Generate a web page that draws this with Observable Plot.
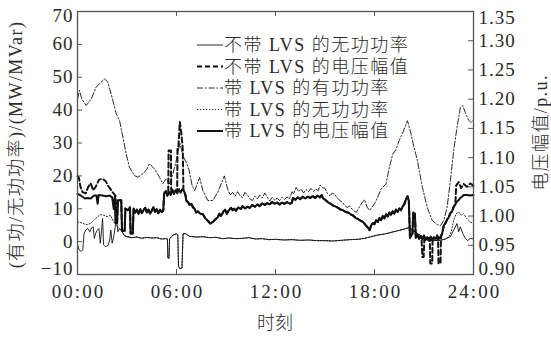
<!DOCTYPE html>
<html><head><meta charset="utf-8">
<script src="https://cdn.jsdelivr.net/npm/d3@7"></script>
<script src="https://cdn.jsdelivr.net/npm/@observablehq/plot@0.6"></script>
<style>
body{margin:0;background:#fff;}
#chart{width:551px;height:340px;}
</style></head><body><div id="chart"></div>
<script>
// ---- tick labels ----
const xTickHours = [0, 6, 12, 18, 24];
const xTickLabels = ["00:00", "06:00", "12:00", "18:00", "24:00"];
const leftTicks = [-10, 0, 10, 20, 30, 40, 50, 60, 70];
const rightTicks = [0.90, 0.95, 1.00, 1.05, 1.10, 1.15, 1.20, 1.25, 1.30, 1.35];
const rightTickLabels = ["0.90", "0.95", "1.00", "1.05", "1.10", "1.15", "1.20", "1.25", "1.30", "1.35"];
const seriesNames = ["不带LVS的无功功率", "不带LVS的电压幅值", "带LVS的有功功率", "带LVS的无功功率", "带LVS的电压幅值"];
const leftTitle = "(有功/无功功率)/(MW/MVar)";
const rightTitle = "电压幅值/p.u.";
const xTitle = "时刻";

// ---- series: [hour, value] ----
// 不带LVS的无功功率 (MVar)
const qNoLVS = [[0,-1],[0.1,-2.5],[0.22,-3],[0.32,-2.5],[0.4,2.5],[0.5,3.5],[0.62,4],[0.75,3],[0.85,4.2],[0.95,4.5],[1.02,1],[1.1,2.5],[1.2,3.5],[1.3,4],[1.38,-0.5],[1.45,3],[1.52,7],[1.58,-1],[1.7,-1.5],[1.85,-1.2],[1.95,0.5],[2.02,3.5],[2.1,-0.5],[2.2,1.5],[2.3,5],[2.38,6],[2.45,3],[2.55,4],[2.7,3],[2.85,1.8],[3.0,1.5],[3.3,1.2],[3.6,1.4],[3.9,1.0],[4.2,1.3],[4.5,1.1],[4.8,1.2],[5.1,0.8],[5.35,0.9],[5.45,0.8],[5.48,-5],[5.55,-5],[5.58,0.9],[5.8,2.0],[6.0,2.4],[6.08,2],[6.12,-7.5],[6.2,-8.2],[6.33,-8],[6.4,2.5],[6.55,2.4],[6.8,1.6],[7.2,1.4],[7.6,1.5],[8.0,1.2],[8.4,1.3],[8.8,0.9],[9.2,1.1],[9.6,0.9],[10.0,1.0],[10.4,1.2],[10.8,0.8],[11.2,0.9],[11.6,0.6],[12.0,0.7],[12.5,0.5],[13.0,0.6],[13.5,0.4],[14.0,0.5],[14.5,0.3],[15.0,0.3],[15.5,0.2],[16.0,0.4],[16.5,0.6],[17.0,0.7],[17.4,1.0],[17.8,1.5],[18.2,2.0],[18.6,2.3],[19.0,2.8],[19.4,3.3],[19.8,3.8],[20.1,4.3],[20.3,3.5],[20.6,2.5],[20.9,1.5],[21.2,0.5],[21.6,0.3],[22.0,0.4],[22.3,0.8],[22.6,1.5],[22.85,4],[23.0,5.5],[23.1,3],[23.2,4.5],[23.35,2.5],[23.5,1],[23.65,0.3],[23.8,1],[24,0.8]];

// 带LVS的电压幅值 (p.u.)
const vLVS = [[0,1.038],[0.15,1.036],[0.3,1.033],[0.45,1.030],[0.6,1.031],[0.8,1.030],[1.0,1.035],[1.15,1.035],[1.22,1.021],[1.28,1.036],[1.5,1.035],[1.75,1.034],[1.95,1.035],[2.1,1.032],[2.2,1.012],[2.26,1.033],[2.3,0.988],[2.4,0.988],[2.45,1.027],[2.65,1.027],[2.7,0.975],[2.86,0.975],[2.9,1.013],[3.05,1.010],[3.18,1.015],[3.22,0.970],[3.35,0.970],[3.4,1.013],[3.5,1.006],[3.6,1.011],[3.7,1.004],[3.8,1.012],[3.9,1.005],[4.0,1.010],[4.1,1.014],[4.2,1.006],[4.3,1.011],[4.4,1.004],[4.5,1.009],[4.6,1.015],[4.7,1.007],[4.8,1.012],[4.9,1.005],[5.0,1.011],[5.1,1.007],[5.2,1.010],[5.25,1.038],[5.35,1.043],[5.45,1.035],[5.55,1.041],[5.65,1.036],[5.75,1.045],[5.85,1.038],[5.95,1.044],[6.05,1.039],[6.15,1.046],[6.25,1.040],[6.35,1.046],[6.45,1.043],[6.55,1.035],[6.6,1.026],[6.7,1.024],[6.8,1.019],[6.9,1.021],[7.0,1.015],[7.1,1.012],[7.2,1.006],[7.3,1.008],[7.45,1.004],[7.6,1.003],[7.75,0.996],[7.9,0.992],[8.05,0.987],[8.2,0.990],[8.35,0.994],[8.5,0.998],[8.6,1.004],[8.7,1.000],[8.85,1.008],[8.95,1.011],[9.05,1.004],[9.15,1.009],[9.3,1.014],[9.4,1.010],[9.5,1.013],[9.6,1.009],[9.75,1.015],[9.9,1.012],[10.0,1.017],[10.15,1.013],[10.3,1.016],[10.45,1.014],[10.6,1.019],[10.75,1.016],[10.9,1.020],[11.05,1.017],[11.2,1.022],[11.35,1.019],[11.5,1.022],[11.65,1.020],[11.8,1.024],[11.95,1.021],[12.1,1.023],[12.25,1.020],[12.4,1.023],[12.55,1.021],[12.7,1.024],[12.85,1.021],[13.0,1.023],[13.05,1.031],[13.2,1.028],[13.35,1.032],[13.5,1.029],[13.65,1.033],[13.8,1.030],[13.95,1.033],[14.1,1.031],[14.25,1.034],[14.4,1.031],[14.55,1.035],[14.7,1.032],[14.8,1.036],[14.9,1.030],[15.05,1.027],[15.2,1.023],[15.35,1.021],[15.5,1.018],[15.65,1.016],[15.8,1.014],[15.95,1.011],[16.1,1.010],[16.25,1.007],[16.4,1.006],[16.55,1.003],[16.7,1.001],[16.85,0.997],[17.0,0.995],[17.15,0.992],[17.3,0.990],[17.45,0.985],[17.6,0.980],[17.7,0.976],[17.8,0.984],[17.9,0.988],[18.0,0.986],[18.1,0.993],[18.2,0.990],[18.3,0.997],[18.4,0.993],[18.5,1.000],[18.6,0.996],[18.7,1.003],[18.8,0.999],[18.9,1.006],[19.0,1.002],[19.1,1.008],[19.2,1.004],[19.3,1.011],[19.4,1.007],[19.5,1.013],[19.6,1.010],[19.7,1.016],[19.8,1.020],[19.9,1.028],[20.0,1.034],[20.08,1.026],[20.15,0.963],[20.3,0.970],[20.35,1.006],[20.45,1.004],[20.5,0.963],[20.6,0.968],[20.7,0.961],[20.8,0.966],[20.9,0.960],[21.0,0.967],[21.1,0.959],[21.2,0.964],[21.3,0.958],[21.4,0.965],[21.5,0.959],[21.6,0.964],[21.7,0.960],[21.8,0.967],[21.9,0.961],[22.0,0.965],[22.1,0.970],[22.2,0.984],[22.3,0.988],[22.4,0.994],[22.5,0.998],[22.6,1.005],[22.7,1.008],[22.8,1.016],[22.9,1.020],[23.0,1.025],[23.1,1.027],[23.2,1.031],[23.3,1.033],[23.4,1.036],[23.6,1.036],[23.8,1.035],[24,1.036]];

// 不带LVS的电压幅值 (p.u.) — where it differs from 带LVS
const vNoLVSHead = [[0,1.068],[0.08,1.066],[0.18,1.05],[0.3,1.041],[0.5,1.039],[0.65,1.05],[0.8,1.056],[0.95,1.044],[1.1,1.05],[1.3,1.062],[1.5,1.064],[1.7,1.06],[1.85,1.052],[2.0,1.046],[2.15,1.04],[2.3,1.035]];
const vNoLVSSpike1 = [[5.5,1.04],[5.52,1.112],[5.66,1.112],[5.68,1.04]];
const vNoLVSSpike2 = [[6.04,1.042],[6.06,1.115],[6.12,1.12],[6.2,1.161],[6.3,1.14],[6.38,1.115],[6.42,1.044]];
const vNoLVSDips = [[20.85,0.962],[20.9,0.93],[20.98,0.93],[21.02,0.963],[21.35,0.962],[21.38,0.919],[21.5,0.919],[21.52,0.962],[21.85,0.962],[21.88,0.919],[22.0,0.919],[22.03,0.964]];
const vNoLVSTail = [[22.9,1.02],[22.95,1.052],[23.1,1.058],[23.25,1.048],[23.4,1.055],[23.6,1.05],[23.8,1.056],[24,1.052]];

// 带LVS的有功功率 (MW)
const pLVS = [[0,43.4],[0.12,46],[0.26,43.4],[0.53,41.4],[0.83,43.4],[1.13,47],[1.43,48.5],[1.64,49.5],[1.84,48.5],[2.14,43],[2.34,39],[2.55,36.8],[2.75,31.8],[2.95,26.7],[3.15,22.6],[3.45,20.1],[3.66,19.6],[3.96,20.6],[4.2,22],[4.36,23.7],[4.67,22.1],[4.97,19.6],[5.17,17.6],[5.37,19.1],[5.58,17.6],[5.78,20.6],[6.0,25],[6.2,30],[6.4,26],[6.6,24],[6.75,22],[6.95,17],[7.1,15.5],[7.4,19.5],[7.6,15.5],[7.9,12.5],[8.2,12.5],[8.5,15],[8.9,20],[9.1,16],[9.25,14.2],[9.4,15],[9.55,13.8],[9.7,15.2],[9.85,14],[10.0,13.4],[10.15,15],[10.3,14.2],[10.45,13],[10.6,12.5],[10.75,13.8],[10.9,13],[11.05,14.2],[11.2,13.3],[11.35,14.8],[11.5,13.6],[11.65,12.3],[11.8,13.5],[11.95,12.6],[12.1,13.2],[12.25,12.5],[12.4,13.5],[12.55,12.8],[12.7,13.6],[12.85,13],[13.0,15.2],[13.1,14.5],[13.25,16.5],[13.4,15.2],[13.55,16],[13.7,14.8],[13.85,15.9],[14.0,15.2],[14.15,16.2],[14.3,15.3],[14.45,16],[14.6,15.5],[14.7,17.2],[14.85,16.4],[15.0,16.2],[15.15,14.6],[15.3,14],[15.45,14.8],[15.6,14.3],[15.75,13.2],[15.9,12.5],[16.05,12],[16.2,11],[16.35,10.4],[16.5,10.8],[16.65,9.8],[16.8,9.2],[16.9,8.9],[17.0,9.8],[17.2,11.5],[17.4,12.8],[17.55,10.5],[17.7,9.5],[17.85,10.5],[18.0,11.5],[18.1,12.5],[18.4,16],[18.7,17.6],[18.9,22.6],[19.1,26.5],[19.3,28],[19.5,30.8],[19.7,33],[20.0,36.8],[20.2,33],[20.4,28.6],[20.6,24.7],[20.9,16.5],[21.2,10.4],[21.5,6.4],[21.8,5.2],[22.0,4.9],[22.2,6.5],[22.4,10.4],[22.6,18.6],[22.8,27.7],[23.0,34.7],[23.2,40.8],[23.35,41.4],[23.5,39.3],[23.7,37],[23.85,36.2],[24,37]];

// 带LVS的无功功率 (MVar) — where it differs from 不带LVS
const qLVSHead = [[0,6],[0.2,5.8],[0.45,5.3],[0.6,5.2],[0.8,5.6],[1.0,6.5],[1.2,7.5],[1.4,8.2],[1.6,8],[1.8,7.6],[2.0,8],[2.2,6],[2.4,4.5],[2.55,4]];
const qLVSTail = [[22.5,1.5],[22.65,3],[22.8,6.5],[22.95,8.5],[23.1,9],[23.25,8],[23.4,8.5],[23.6,7],[23.8,6],[24,5.5]];

// ---- build ----
const vMin = rightTicks[0], vMax = rightTicks[rightTicks.length - 1];
const yMin = leftTicks[0], yMax = leftTicks[leftTicks.length - 1];
const toLeft = v => yMin + (v - vMin) / (vMax - vMin) * (yMax - yMin);

const vNoLVS = [
  ...vNoLVSHead,
  ...vLVS.filter(d => d[0] > 2.3 && d[0] <= 5.45),
  ...vNoLVSSpike1,
  ...vLVS.filter(d => d[0] > 5.7 && d[0] < 6.04),
  ...vNoLVSSpike2,
  ...vLVS.filter(d => d[0] > 6.42 && d[0] < 20.85),
  ...vNoLVSDips,
  ...vLVS.filter(d => d[0] > 22.03 && d[0] < 22.9),
  ...vNoLVSTail
];
const qLVS = [...qLVSHead, ...qNoLVS.filter(d => d[0] > 2.55 && d[0] < 22.5), ...qLVSTail];

const W = 551, H = 340, mL = 77, mR = 78, mT = 11, mB = 66;
const plotW = W - mL - mR, plotH = H - mT - mB;
const ink = "#111", axisInk = "#555", textInk = "#2a2a2a";
const FONT = "'Liberation Serif','Noto Sans CJK SC',serif";
const rightPos = rightTicks.map(toLeft);
const rFmt = d => rightTickLabels[rightPos.indexOf(d)];
const xFmt = d => xTickLabels[xTickHours.indexOf(d)];

const styles = [
  {strokeWidth: 0.9},
  {strokeWidth: 2, strokeDasharray: "5,3"},
  {strokeWidth: 0.9, strokeDasharray: "6,2,1.5,2"},
  {strokeWidth: 0.9, strokeDasharray: "1.2,1.8"},
  {strokeWidth: 2}
];

const chart = Plot.plot({
  width: W, height: H,
  marginLeft: mL, marginRight: mR, marginTop: mT, marginBottom: mB,
  style: {fontFamily: FONT, fontSize: "19px", color: textInk, background: "#fff"},
  x: {domain: [0, 24]},
  y: {domain: [yMin, yMax]},
  marks: [
    Plot.axisX(xTickHours, {anchor: "bottom", tickSize: 0, tickPadding: 10, tickFormat: xFmt, label: null, fontSize: 19, dx: 1}),
    Plot.axisY(leftTicks.slice(1, -1), {anchor: "left", tickSize: 0, tickPadding: 4, label: null, fontSize: 19}),
    Plot.axisY([yMax], {anchor: "left", tickSize: 0, tickPadding: 4, label: null, fontSize: 19, dy: 4}),
    Plot.axisY([yMin], {anchor: "left", tickSize: 0, tickPadding: 4, label: null, fontSize: 19, dy: -6}),
    Plot.axisY(rightPos.slice(1, -1), {anchor: "right", tickSize: 0, tickPadding: 5, tickFormat: rFmt, label: null, fontSize: 19}),
    Plot.axisY([rightPos[rightPos.length - 1]], {anchor: "right", tickSize: 0, tickPadding: 5, tickFormat: rFmt, label: null, fontSize: 19, dy: 6}),
    Plot.axisY([rightPos[0]], {anchor: "right", tickSize: 0, tickPadding: 5, tickFormat: rFmt, label: null, fontSize: 19, dy: -6}),
    Plot.tickY(leftTicks.slice(1, -1), {y: d => d, insetRight: plotW - 5, stroke: axisInk}),
    Plot.tickY(rightPos.slice(1, -1), {y: d => d, insetLeft: plotW - 5, stroke: axisInk}),
    Plot.tickX(xTickHours.slice(1, -1), {x: d => d, insetTop: plotH - 5, stroke: axisInk}),
    Plot.tickX(xTickHours.slice(1, -1), {x: d => d, insetBottom: plotH - 5, stroke: axisInk}),
    Plot.line(qNoLVS, {x: d => d[0], y: d => d[1], stroke: ink, ...styles[0]}),
    Plot.line(vNoLVS, {x: d => d[0], y: d => toLeft(d[1]), stroke: ink, ...styles[1]}),
    Plot.line(pLVS, {x: d => d[0], y: d => d[1], stroke: ink, ...styles[2]}),
    Plot.line(qLVS, {x: d => d[0], y: d => d[1], stroke: ink, ...styles[3]}),
    Plot.line(vLVS, {x: d => d[0], y: d => toLeft(d[1]), stroke: ink, ...styles[4]}),
    Plot.frame({stroke: axisInk, strokeWidth: 1.3})
  ]
});
document.getElementById("chart").appendChild(chart);
d3.select(chart).selectAll("g[aria-label='x-axis tick label'] text").attr("letter-spacing", 2);
d3.select(chart).selectAll("g[aria-label='y-axis tick label'] text").attr("letter-spacing", 1);

// axis titles & legend
const svg = d3.select(chart);
const t = svg.append("g").attr("font-family", FONT).attr("fill", textInk).attr("text-anchor", "middle").attr("font-weight", 300);
t.append("text").attr("transform", `translate(22,${mT + plotH / 2 + 2}) rotate(-90)`)
  .attr("font-size", 18).attr("letter-spacing", 1.4).text(leftTitle);
t.append("text").attr("transform", `translate(547,${mT + plotH / 2 - 10}) rotate(-90)`)
  .attr("font-size", 18).attr("letter-spacing", 1.4).text(rightTitle);
t.append("text").attr("x", mL + plotW / 2).attr("y", 329)
  .attr("font-size", 18).text(xTitle);

const lg = svg.append("g").attr("font-family", FONT).attr("text-anchor", "start").attr("font-weight", 300);
const rowY = [45, 66.5, 88, 109.5, 131];
seriesNames.forEach((name, i) => {
  lg.append("line").attr("x1", 197).attr("x2", 223).attr("y1", rowY[i]).attr("y2", rowY[i])
    .attr("stroke", ink).attr("stroke-width", styles[i].strokeWidth)
    .attr("stroke-dasharray", styles[i].strokeDasharray || null);
  lg.append("text").attr("x", 224).attr("y", rowY[i]).attr("dy", "0.35em")
    .attr("font-size", 18).attr("letter-spacing", 1.5).attr("fill", textInk)
    .text(name.replace("LVS", " LVS "));
});
</script></body></html>
